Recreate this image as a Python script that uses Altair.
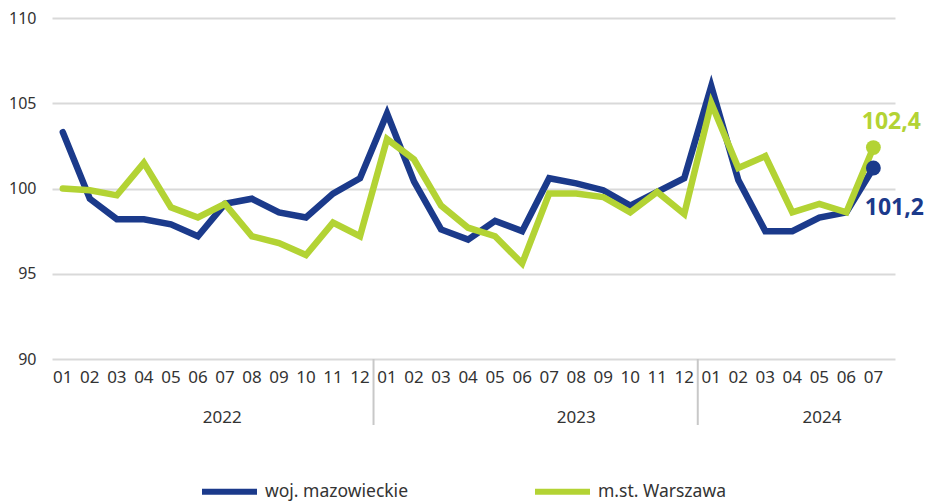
import altair as alt
import pandas as pd

# ---- data ----
months = ["01", "02", "03", "04", "05", "06", "07", "08", "09", "10", "11", "12",
          "01", "02", "03", "04", "05", "06", "07", "08", "09", "10", "11", "12",
          "01", "02", "03", "04", "05", "06", "07"]
years = ["2022"] * 12 + ["2023"] * 12 + ["2024"] * 7
year_labels = ["2022", "2023", "2024"]
series_names = ["woj. mazowieckie", "m.st. Warszawa"]
mazowieckie = [103.3, 99.4, 98.2, 98.2, 97.9, 97.2, 99.1, 99.4, 98.6, 98.3, 99.7, 100.6,
               104.4, 100.4, 97.6, 97.0, 98.1, 97.5, 100.6, 100.3, 99.9, 99.0, 99.8, 100.6,
               106.0, 100.5, 97.5, 97.5, 98.3, 98.6, 101.2]
warszawa = [100.0, 99.9, 99.6, 101.5, 98.9, 98.3, 99.1, 97.2, 96.8, 96.1, 98.0, 97.2,
            102.9, 101.7, 99.0, 97.7, 97.2, 95.6, 99.7, 99.7, 99.5, 98.6, 99.8, 98.5,
            105.0, 101.2, 101.9, 98.6, 99.1, 98.6, 102.4]
y_ticks = [90, 95, 100, 105, 110]

# ---- styling / layout ----
colors = ["#1b3a8b", "#b3d334"]
text_color = "#333333"
grid_color = "#d9d9d9"
W, H = 843, 341
year_label_pos = [5.9, 19.0, 28.1]  # label placement (index units)

n = len(months)
idx = list(range(n))
df = pd.DataFrame({
    "i": idx * 2,
    "series": [series_names[0]] * n + [series_names[1]] * n,
    "value": mazowieckie + warszawa,
})
df["label"] = df["value"].map(lambda v: f"{v:.1f}".replace(".", ","))
ticks_df = pd.DataFrame({"i": idx, "month": months})
year_df = pd.DataFrame({"year": year_labels, "pos": year_label_pos})
bounds = [i - 0.5 for i in range(1, n) if years[i] != years[i - 1]]
sep_df = pd.DataFrame({"pos": bounds})

xscale = alt.Scale(domain=[-0.4, 30.8], nice=False, zero=False)
yscale = alt.Scale(domain=[90, 110], nice=False, zero=False)

color = alt.Color(
    "series:N",
    scale=alt.Scale(domain=series_names, range=colors),
    legend=alt.Legend(
        title=None, orient="none", direction="horizontal",
        legendX=147, legendY=443,
        symbolType="stroke", symbolSize=3025, symbolStrokeWidth=6,
        labelFontSize=17.5, labelColor=text_color, labelOffset=5,
        columnPadding=114, labelLimit=300,
    ),
)

x_enc = alt.X("i:Q", scale=xscale, axis=None)
y_enc = alt.Y(
    "value:Q", scale=yscale, title=None,
    axis=alt.Axis(values=y_ticks, domain=False, ticks=False, grid=True,
                  gridColor=grid_color, gridWidth=2, labelFontSize=16,
                  labelColor=text_color, labelPadding=16),
)

base = alt.Chart(df).encode(x=x_enc, y=y_enc, color=color)

line_blue = base.transform_filter(alt.datum.series == series_names[0]).mark_line(
    strokeWidth=6.5, strokeCap="round", strokeJoin="miter")
line_green = base.transform_filter(alt.datum.series == series_names[1]).mark_line(
    strokeWidth=6.5, strokeCap="round", strokeJoin="miter")

last = base.transform_filter(alt.datum.i == n - 1)
points = last.mark_circle(size=220, opacity=1)

lab_blue = last.transform_filter(alt.datum.series == series_names[0]).mark_text(
    fontSize=23, fontWeight="bold", dx=21, dy=40, baseline="middle", align="center"
).encode(text="label:N")
lab_green = last.transform_filter(alt.datum.series == series_names[1]).mark_text(
    fontSize=23, fontWeight="bold", dx=18, dy=-26, baseline="middle", align="center"
).encode(text="label:N")

month_text = alt.Chart(ticks_df).mark_text(
    fontSize=17, color=text_color, baseline="middle", align="center"
).encode(x=alt.X("i:Q", scale=xscale, axis=None), y=alt.value(H + 19), text="month:N")

year_text = alt.Chart(year_df).mark_text(
    fontSize=17, color=text_color, baseline="middle", align="center"
).encode(x=alt.X("pos:Q", scale=xscale, axis=None), y=alt.value(H + 59), text="year:N")

seps = alt.Chart(sep_df).mark_rule(color="#c8c8c8", strokeWidth=2).encode(
    x=alt.X("pos:Q", scale=xscale, axis=None), y=alt.value(H), y2=alt.value(H + 66))

chart = alt.layer(
    line_blue, line_green, points, lab_blue, lab_green, month_text, year_text, seps
).properties(
    width=W, height=H,
    autosize=alt.AutoSizeParams(type="none"),
    padding={"left": 44, "top": 10, "right": 30, "bottom": 143},
).configure(font="Noto Sans").configure_view(strokeWidth=0)

chart.save("out.html", embed_options={"renderer": "svg", "actions": False})
